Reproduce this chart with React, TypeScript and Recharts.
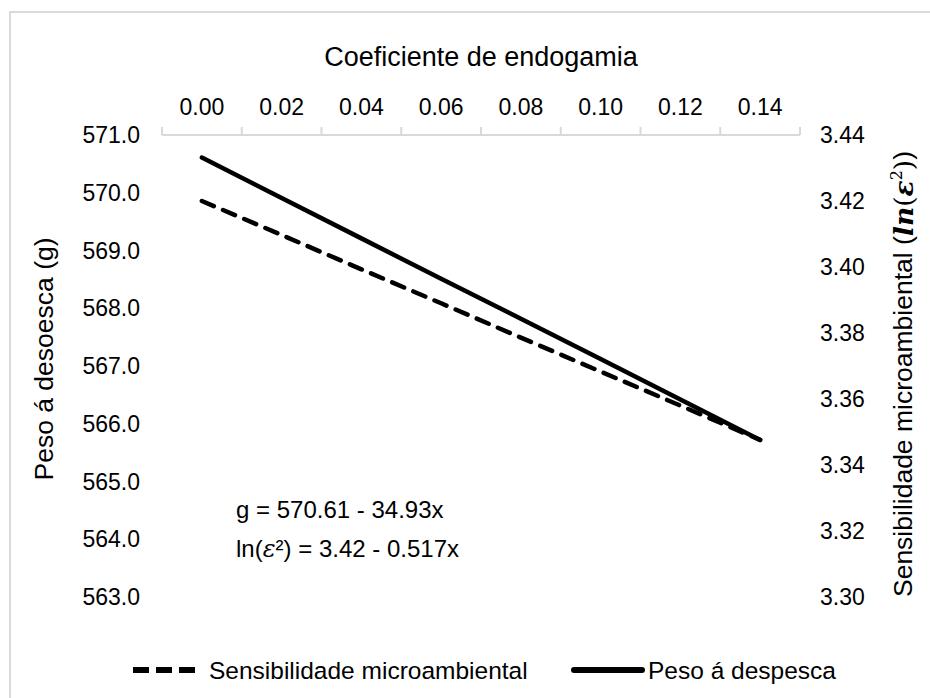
import React from 'react';
import { LineChart, Line, XAxis, YAxis, Legend, Label } from 'recharts';

// coeficiente de endogamia (eixo superior)
const coefs = [0, 0.02, 0.04, 0.06, 0.08, 0.1, 0.12, 0.14];
// peso á despesca (g) - eixo esquerdo
const pesoDespesca = [570.61, 569.91, 569.21, 568.51, 567.82, 567.12, 566.42, 565.72];
// sensibilidade microambiental ln(e^2) - eixo direito
const sensibilidade = [3.42, 3.4097, 3.3993, 3.389, 3.3786, 3.3683, 3.358, 3.3476];

const xTicks = [-0.01, 0, 0.01, 0.02, 0.03, 0.04, 0.05, 0.06, 0.07, 0.08, 0.09, 0.1, 0.11, 0.12, 0.13, 0.14, 0.15];
const leftTicks = [563, 564, 565, 566, 567, 568, 569, 570, 571];
const rightTicks = [3.3, 3.32, 3.34, 3.36, 3.38, 3.4, 3.42, 3.44];

const seriesNames = ['Sensibilidade microambiental', 'Peso á despesca'];

const data = coefs.map((c, i) => ({
  coef: c,
  peso: pesoDespesca[i],
  sens: sensibilidade[i],
}));

const FONT = '"Liberation Sans", Arial, sans-serif';
const MATH = '"DejaVu Serif", "Liberation Serif", serif';
const AXIS_GRAY = '#d9d9d9';
const DASH = '13 10';

// labels on even categories, small marks between them (Excel category look)
const TopTick = (props: any) => {
  const { x, y, index, payload } = props;
  if (index % 2 === 0) {
    return <line x1={x} x2={x} y1={y + 20} y2={y + 12} stroke={AXIS_GRAY} strokeWidth={2} />;
  }
  return (
    <text x={x} y={y} textAnchor="middle" fontSize={23} fontFamily={FONT} fill="#000">
      {Number(payload.value).toFixed(2)}
    </text>
  );
};

const renderLegend = () => (
  <svg width={930} height={101} style={{ display: 'block' }}>
    <g fontFamily={FONT} fontSize={24.5} fill="#000">
      <line x1={133} x2={197} y1={73} y2={73} stroke="#000" strokeWidth={6} strokeDasharray="16 7" strokeLinecap="butt" />
      <text x={209} y={73} dominantBaseline="central">{seriesNames[0]}</text>
      <line x1={574} x2={642} y1={73} y2={73} stroke="#000" strokeWidth={6} strokeLinecap="round" />
      <text x={648} y={73} dominantBaseline="central">{seriesNames[1]}</text>
    </g>
  </svg>
);

export default function App() {
  return (
    <div style={{ position: 'fixed', left: 0, top: 0, width: 930, height: 698, background: '#fff', overflow: 'hidden' }}>
      <div
        style={{
          position: 'absolute',
          left: 9,
          top: 11,
          right: 0,
          bottom: 0,
          borderTop: `2px solid ${AXIS_GRAY}`,
          borderLeft: `2px solid ${AXIS_GRAY}`,
        }}
      />
      <div style={{ position: 'absolute', left: 0, top: 0 }}>
        <LineChart width={930} height={698} data={data} margin={{ top: 0, right: 0, bottom: 0, left: 0 }}>
          <XAxis
            dataKey="coef"
            type="number"
            orientation="top"
            domain={[-0.01, 0.15]}
            ticks={xTicks}
            interval={0}
            height={135}
            tick={<TopTick />}
            tickLine={false}
            tickSize={8}
            tickMargin={12}
            axisLine={{ stroke: AXIS_GRAY, strokeWidth: 2 }}
          >
            <Label
              content={(p: any) => (
                <text
                  x={p.viewBox.x + p.viewBox.width / 2}
                  y={p.viewBox.y + 66}
                  textAnchor="middle"
                  fontSize={27}
                  fontFamily={FONT}
                  fill="#000"
                >
                  Coeficiente de endogamia
                </text>
              )}
            />
          </XAxis>
          <YAxis
            yAxisId="left"
            orientation="left"
            width={162}
            domain={[563, 571]}
            ticks={leftTicks}
            interval={0}
            tickFormatter={(v: number) => v.toFixed(1)}
            tick={{ fill: '#000', fontSize: 23, fontFamily: FONT }}
            tickLine={false}
            axisLine={false}
            tickSize={0}
            tickMargin={22}
          >
            <Label
              content={(p: any) => {
                const cx = p.viewBox.x + 44;
                const cy = 359;
                return (
                  <text
                    x={cx}
                    y={cy}
                    transform={`rotate(-90, ${cx}, ${cy})`}
                    textAnchor="middle"
                    dominantBaseline="central"
                    fontSize={26.5}
                    fontFamily={FONT}
                    fill="#000"
                  >
                    Peso á desoesca (g)
                  </text>
                );
              }}
            />
          </YAxis>
          <YAxis
            yAxisId="right"
            orientation="right"
            width={130}
            domain={[3.3, 3.44]}
            ticks={rightTicks}
            interval={0}
            tickFormatter={(v: number) => v.toFixed(2)}
            tick={{ fill: '#000', fontSize: 23, fontFamily: FONT }}
            tickLine={false}
            axisLine={false}
            tickSize={0}
            tickMargin={20}
          >
            <Label
              content={(p: any) => {
                const cx = p.viewBox.x + 103;
                const cy = 374;
                return (
                  <text
                    x={cx}
                    y={cy}
                    transform={`rotate(-90, ${cx}, ${cy})`}
                    textAnchor="middle"
                    dominantBaseline="central"
                    fontSize={26.5}
                    fontFamily={FONT}
                    fill="#000"
                  >
                    Sensibilidade microambiental (
                    <tspan fontFamily={MATH} fontStyle="italic" fontWeight="bold">ln</tspan>
                    <tspan fontFamily={MATH}>(</tspan>
                    <tspan fontFamily={MATH} fontStyle="italic" fontWeight="bold">ε</tspan>
                    <tspan fontFamily={MATH} fontSize={16} dy={-7}>2</tspan>
                    <tspan fontFamily={MATH} dy={7}>)</tspan>)
                  </text>
                );
              }}
            />
          </YAxis>
          <Legend verticalAlign="bottom" content={renderLegend} wrapperStyle={{ margin: 0, padding: 0 }} />
          <Line
            yAxisId="right"
            dataKey="sens"
            name={seriesNames[0]}
            stroke="#000"
            strokeWidth={4.5}
            strokeDasharray={DASH}
            strokeLinecap="round"
            dot={false}
            activeDot={false}
            isAnimationActive={false}
          />
          <Line
            yAxisId="left"
            dataKey="peso"
            name={seriesNames[1]}
            stroke="#000"
            strokeWidth={4.5}
            strokeLinecap="round"
            dot={false}
            activeDot={false}
            isAnimationActive={false}
          />
          <g fontFamily={FONT} fontSize={24} fill="#000">
            <text x={236} y={518}>g = 570.61 - 34.93x</text>
            <text x={236} y={557}>
              ln(<tspan fontFamily={MATH} fontStyle="italic">ε</tspan>²) = 3.42 - 0.517x
            </text>
          </g>
        </LineChart>
      </div>
    </div>
  );
}
